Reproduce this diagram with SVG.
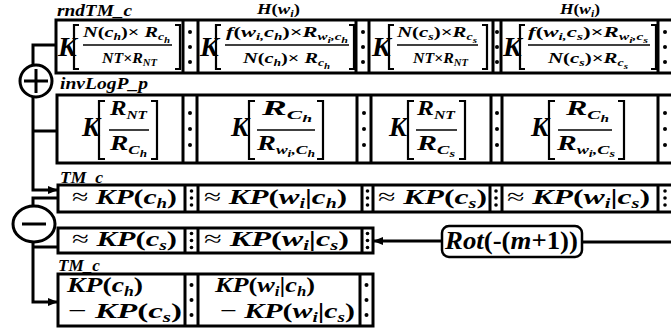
<svg xmlns="http://www.w3.org/2000/svg" width="671" height="334" viewBox="0 0 671 334">
  <defs>
    <style>
      .m { font-family: "Liberation Serif", "DejaVu Serif", serif; font-weight: bold; font-style: italic; fill: #000; }
      .u { font-style: normal; }
      .ap { font-style: normal; font-weight: normal; }
      .box { fill: #fff; stroke: #000; stroke-width: 3; }
      .sep { stroke: #000; stroke-width: 3; }
      .br { fill: none; stroke: #000; stroke-width: 2.2; }
      .fl { stroke: #000; stroke-width: 1.5; }
      .wire { fill: none; stroke: #000; stroke-width: 3; }
      .dot { fill: #000; }
    </style>
    <marker id="arr" markerWidth="10" markerHeight="8" refX="9" refY="4" orient="auto" markerUnits="userSpaceOnUse">
      <path d="M0,0 L10,4 L0,8 Z" fill="#000"/>
    </marker>
  </defs>

  <rect width="671" height="334" fill="#fff"/>

  <!-- connectors -->
  <g id="connectors">
    <!-- into the adder -->
    <path class="wire" d="M56,45 H33 V66"/>
    <path class="wire" d="M33,97 V190 H57" marker-end="url(#arr)"/>
    <path class="wire" d="M33,131 H57"/>
    <!-- into the subtractor -->
    <path class="wire" d="M58,198 H33 V207"/>
    <path class="wire" d="M33,241 V302 H57" marker-end="url(#arr)"/>
    <path class="wire" d="M33,247 H58"/>
    <!-- rotation feed -->
    <path class="wire" d="M671,242 H582"/>
    <path class="wire" d="M442,241 H374" marker-end="url(#arr)"/>
  </g>

  <!-- adder -->
  <g id="adder">
    <circle cx="36" cy="81" r="16" fill="#fff" stroke="#000" stroke-width="3"/>
    <path class="wire" d="M24,81 H48 M36,69 V93"/>
  </g>

  <!-- subtractor -->
  <g id="subtractor">
    <ellipse cx="34" cy="224" rx="21" ry="18" fill="#fff" stroke="#000" stroke-width="3"/>
    <path class="wire" d="M22,224 H46"/>
  </g>

  <!-- rotation box -->
  <g id="rot">
    <rect x="442" y="226" width="140" height="31" rx="7" fill="#fff" stroke="#000" stroke-width="2.5"/>
    <text class="m" x="445" y="249" font-size="26" textLength="133" lengthAdjust="spacingAndGlyphs">Rot<tspan class="u">(-(</tspan>m<tspan class="u">+1))</tspan></text>
  </g>

  <!-- row 1: rndTM_c -->
  <g id="rndTM_c">
    <text class="m" x="57" y="16" font-size="16" textLength="75" lengthAdjust="spacingAndGlyphs">rndTM_c</text>
    <text class="m" x="257" y="14" font-size="15" textLength="43" lengthAdjust="spacingAndGlyphs">H<tspan class="u">(</tspan>w<tspan font-size="10" dy="3">i</tspan><tspan class="u" dy="-3">)</tspan></text>
    <text class="m" x="560" y="14" font-size="15" textLength="40" lengthAdjust="spacingAndGlyphs">H<tspan class="u">(</tspan>w<tspan font-size="10" dy="3">i</tspan><tspan class="u" dy="-3">)</tspan></text>
    <rect class="box" x="56" y="20" width="630" height="53"/>
    <path class="sep" d="M183,20 V73 M198,20 V73 M356,20 V73 M369,20 V73 M493,20 V73 M501,20 V73 M658,20 V73"/>
    <g class="dot">
      <circle cx="190" cy="32" r="2"/><circle cx="190" cy="47" r="2"/><circle cx="190" cy="62" r="2"/>
      <circle cx="363" cy="32" r="2"/><circle cx="363" cy="47" r="2"/><circle cx="363" cy="62" r="2"/>
      <circle cx="497" cy="32" r="2"/><circle cx="497" cy="47" r="2"/><circle cx="497" cy="62" r="2"/>
      <circle cx="665" cy="32" r="2"/><circle cx="665" cy="47" r="2"/><circle cx="665" cy="62" r="2"/>
    </g>
    <!-- cell 1 -->
    <text class="m" x="58" y="56" font-size="28">K</text>
    <path class="br" d="M79,25 H74 V69 H79"/>
    <text class="m" x="83" y="37" font-size="15" textLength="87" lengthAdjust="spacingAndGlyphs">N<tspan class="u">(</tspan>c<tspan font-size="10" dy="3">h</tspan><tspan class="u" dy="-3">)×</tspan> R<tspan font-size="10" dy="3">c</tspan><tspan font-size="8" dy="3">h</tspan></text>
    <line class="fl" x1="83" y1="45" x2="172" y2="45"/>
    <text class="m" x="102" y="63" font-size="15" textLength="55" lengthAdjust="spacingAndGlyphs">NT<tspan class="u">×</tspan>R<tspan font-size="10" dy="3">NT</tspan></text>
    <path class="br" d="M175,25 H180 V69 H175"/>
    <!-- cell 2 -->
    <text class="m" x="200" y="56" font-size="28">K</text>
    <path class="br" d="M221,25 H216 V69 H221"/>
    <text class="m" x="226" y="37" font-size="15" textLength="122" lengthAdjust="spacingAndGlyphs">f<tspan class="u">(</tspan>w<tspan font-size="10" dy="3">i,</tspan><tspan dy="-3">c</tspan><tspan font-size="10" dy="3">h</tspan><tspan class="u" dy="-3">)×</tspan>R<tspan font-size="10" dy="3">w</tspan><tspan font-size="8" dy="3">i</tspan><tspan font-size="10" dy="-3">,c</tspan><tspan font-size="8" dy="3">h</tspan></text>
    <line class="fl" x1="225" y1="45" x2="349" y2="45"/>
    <text class="m" x="243" y="63" font-size="15" textLength="87" lengthAdjust="spacingAndGlyphs">N<tspan class="u">(</tspan>c<tspan font-size="10" dy="3">h</tspan><tspan class="u" dy="-3">)×</tspan> R<tspan font-size="10" dy="3">c</tspan><tspan font-size="8" dy="3">h</tspan></text>
    <path class="br" d="M349,25 H354 V69 H349"/>
    <!-- cell 3 -->
    <text class="m" x="372" y="56" font-size="28">K</text>
    <path class="br" d="M394,25 H389 V69 H394"/>
    <text class="m" x="397" y="37" font-size="15" textLength="80" lengthAdjust="spacingAndGlyphs">N<tspan class="u">(</tspan>c<tspan font-size="10" dy="3">s</tspan><tspan class="u" dy="-3">)×</tspan>R<tspan font-size="10" dy="3">c</tspan><tspan font-size="8" dy="3">s</tspan></text>
    <line class="fl" x1="397" y1="45" x2="478" y2="45"/>
    <text class="m" x="413" y="63" font-size="15" textLength="55" lengthAdjust="spacingAndGlyphs">NT<tspan class="u">×</tspan>R<tspan font-size="10" dy="3">NT</tspan></text>
    <path class="br" d="M482,25 H487 V69 H482"/>
    <!-- cell 4 -->
    <text class="m" x="503" y="56" font-size="28">K</text>
    <path class="br" d="M525,25 H520 V69 H525"/>
    <text class="m" x="528" y="37" font-size="15" textLength="120" lengthAdjust="spacingAndGlyphs">f<tspan class="u">(</tspan>w<tspan font-size="10" dy="3">i,</tspan><tspan dy="-3">c</tspan><tspan font-size="10" dy="3">s</tspan><tspan class="u" dy="-3">)×</tspan>R<tspan font-size="10" dy="3">w</tspan><tspan font-size="8" dy="3">i</tspan><tspan font-size="10" dy="-3">,c</tspan><tspan font-size="8" dy="3">s</tspan></text>
    <line class="fl" x1="528" y1="45" x2="650" y2="45"/>
    <text class="m" x="548" y="63" font-size="15" textLength="80" lengthAdjust="spacingAndGlyphs">N<tspan class="u">(</tspan>c<tspan font-size="10" dy="3">s</tspan><tspan class="u" dy="-3">)×</tspan>R<tspan font-size="10" dy="3">c</tspan><tspan font-size="8" dy="3">s</tspan></text>
    <path class="br" d="M651,25 H656 V69 H651"/>
  </g>

  <!-- row 2: invLogP_p -->
  <g id="invLogP_p">
    <text class="m" x="60" y="89" font-size="16" textLength="88" lengthAdjust="spacingAndGlyphs">invLogP_p</text>
    <rect class="box" x="57" y="95" width="630" height="68"/>
    <path class="sep" d="M183,95 V163 M197,95 V163 M357,95 V163 M371,95 V163 M491,95 V163 M502,95 V163 M658,95 V163"/>
    <g class="dot">
      <circle cx="190" cy="113" r="2"/><circle cx="190" cy="129" r="2"/><circle cx="190" cy="145" r="2"/>
      <circle cx="364" cy="113" r="2"/><circle cx="364" cy="129" r="2"/><circle cx="364" cy="145" r="2"/>
      <circle cx="497" cy="113" r="2"/><circle cx="497" cy="129" r="2"/><circle cx="497" cy="145" r="2"/>
      <circle cx="665" cy="113" r="2"/><circle cx="665" cy="129" r="2"/><circle cx="665" cy="145" r="2"/>
    </g>
    <!-- cell 1 -->
    <text class="m" x="82" y="136" font-size="27">K</text>
    <path class="br" d="M105,101 H99 V159 H105"/>
    <text class="m" x="110" y="115" font-size="21" textLength="37" lengthAdjust="spacingAndGlyphs">R<tspan font-size="13" dy="4">NT</tspan></text>
    <line class="fl" x1="109" y1="130" x2="149" y2="130"/>
    <text class="m" x="110" y="150" font-size="21" textLength="37" lengthAdjust="spacingAndGlyphs">R<tspan font-size="13" dy="4">C</tspan><tspan font-size="10" dy="3">h</tspan></text>
    <path class="br" d="M151,101 H157 V159 H151"/>
    <!-- cell 2 -->
    <text class="m" x="231" y="136" font-size="27">K</text>
    <path class="br" d="M255,101 H249 V159 H255"/>
    <text class="m" x="262" y="115" font-size="21" textLength="50" lengthAdjust="spacingAndGlyphs">R<tspan font-size="13" dy="4">C</tspan><tspan font-size="10" dy="3">h</tspan></text>
    <line class="fl" x1="257" y1="130" x2="315" y2="130"/>
    <text class="m" x="257" y="150" font-size="21" textLength="58" lengthAdjust="spacingAndGlyphs">R<tspan font-size="13" dy="4">w</tspan><tspan font-size="10" dy="3">i</tspan><tspan font-size="13" dy="-3">,C</tspan><tspan font-size="10" dy="3">h</tspan></text>
    <path class="br" d="M317,101 H323 V159 H317"/>
    <!-- cell 3 -->
    <text class="m" x="389" y="136" font-size="27">K</text>
    <path class="br" d="M414,101 H408 V159 H414"/>
    <text class="m" x="417" y="115" font-size="21" textLength="38" lengthAdjust="spacingAndGlyphs">R<tspan font-size="13" dy="4">NT</tspan></text>
    <line class="fl" x1="416" y1="130" x2="457" y2="130"/>
    <text class="m" x="417" y="150" font-size="21" textLength="38" lengthAdjust="spacingAndGlyphs">R<tspan font-size="13" dy="4">C</tspan><tspan font-size="10" dy="3">s</tspan></text>
    <path class="br" d="M459,101 H465 V159 H459"/>
    <!-- cell 4 -->
    <text class="m" x="531" y="136" font-size="27">K</text>
    <path class="br" d="M555,101 H549 V159 H555"/>
    <text class="m" x="566" y="115" font-size="21" textLength="43" lengthAdjust="spacingAndGlyphs">R<tspan font-size="13" dy="4">C</tspan><tspan font-size="10" dy="3">h</tspan></text>
    <line class="fl" x1="558" y1="130" x2="612" y2="130"/>
    <text class="m" x="557" y="150" font-size="21" textLength="58" lengthAdjust="spacingAndGlyphs">R<tspan font-size="13" dy="4">w</tspan><tspan font-size="10" dy="3">i</tspan><tspan font-size="13" dy="-3">,C</tspan><tspan font-size="10" dy="3">s</tspan></text>
    <path class="br" d="M618,101 H624 V159 H618"/>
  </g>

  <!-- row 3: TM_c -->
  <g id="TM_c_sum">
    <text class="m" x="60" y="183" font-size="16" textLength="43" lengthAdjust="spacingAndGlyphs">TM_c</text>
    <rect class="box" x="58" y="185" width="630" height="27"/>
    <path class="sep" d="M185,185 V212 M198,185 V212 M362,185 V212 M373,185 V212 M490,185 V212 M502,185 V212 M658,185 V212"/>
    <g class="dot">
      <circle cx="191.5" cy="191" r="1.8"/><circle cx="191.5" cy="198" r="1.8"/><circle cx="191.5" cy="205" r="1.8"/>
      <circle cx="367.5" cy="191" r="1.8"/><circle cx="367.5" cy="198" r="1.8"/><circle cx="367.5" cy="205" r="1.8"/>
      <circle cx="496" cy="191" r="1.8"/><circle cx="496" cy="198" r="1.8"/><circle cx="496" cy="205" r="1.8"/>
      <circle cx="665" cy="191" r="1.8"/><circle cx="665" cy="198" r="1.8"/><circle cx="665" cy="205" r="1.8"/>
    </g>
    <text class="m" x="72" y="204" font-size="22" textLength="105" lengthAdjust="spacingAndGlyphs"><tspan class="ap">≈ </tspan>KP<tspan class="u">(</tspan>c<tspan font-size="14" dy="4">h</tspan><tspan class="u" dy="-4">)</tspan></text>
    <text class="m" x="204" y="204" font-size="22" textLength="143" lengthAdjust="spacingAndGlyphs"><tspan class="ap">≈ </tspan>KP<tspan class="u">(</tspan>w<tspan font-size="14" dy="4">i</tspan><tspan class="u" dy="-4">|</tspan>c<tspan font-size="14" dy="4">h</tspan><tspan class="u" dy="-4">)</tspan></text>
    <text class="m" x="378" y="204" font-size="22" textLength="109" lengthAdjust="spacingAndGlyphs"><tspan class="ap">≈ </tspan>KP<tspan class="u">(</tspan>c<tspan font-size="14" dy="4">s</tspan><tspan class="u" dy="-4">)</tspan></text>
    <text class="m" x="507" y="204" font-size="22" textLength="143" lengthAdjust="spacingAndGlyphs"><tspan class="ap">≈ </tspan>KP<tspan class="u">(</tspan>w<tspan font-size="14" dy="4">i</tspan><tspan class="u" dy="-4">|</tspan>c<tspan font-size="14" dy="4">s</tspan><tspan class="u" dy="-4">)</tspan></text>
  </g>

  <!-- row 4: rotated TM_c -->
  <g id="TM_c_rot">
    <rect class="box" x="58" y="228" width="315" height="25"/>
    <path class="sep" d="M185,228 V253 M198,228 V253 M362,228 V253"/>
    <g class="dot">
      <circle cx="191.5" cy="233.5" r="1.8"/><circle cx="191.5" cy="240.5" r="1.8"/><circle cx="191.5" cy="247.5" r="1.8"/>
      <circle cx="367.5" cy="233.5" r="1.8"/><circle cx="367.5" cy="240.5" r="1.8"/><circle cx="367.5" cy="247.5" r="1.8"/>
    </g>
    <text class="m" x="72" y="246" font-size="22" textLength="105" lengthAdjust="spacingAndGlyphs"><tspan class="ap">≈ </tspan>KP<tspan class="u">(</tspan>c<tspan font-size="14" dy="4">s</tspan><tspan class="u" dy="-4">)</tspan></text>
    <text class="m" x="204" y="246" font-size="22" textLength="145" lengthAdjust="spacingAndGlyphs"><tspan class="ap">≈ </tspan>KP<tspan class="u">(</tspan>w<tspan font-size="14" dy="4">i</tspan><tspan class="u" dy="-4">|</tspan>c<tspan font-size="14" dy="4">s</tspan><tspan class="u" dy="-4">)</tspan></text>
  </g>

  <!-- row 5: TM_c difference -->
  <g id="TM_c_diff">
    <text class="m" x="58" y="271" font-size="16" textLength="42" lengthAdjust="spacingAndGlyphs">TM_c</text>
    <rect class="box" x="58" y="274" width="315" height="52"/>
    <path class="sep" d="M185,274 V326 M198,274 V326 M360,274 V326"/>
    <g class="dot">
      <circle cx="191.5" cy="285" r="2"/><circle cx="191.5" cy="300" r="2"/><circle cx="191.5" cy="315" r="2"/>
      <circle cx="366.5" cy="285" r="2"/><circle cx="366.5" cy="300" r="2"/><circle cx="366.5" cy="315" r="2"/>
    </g>
    <text class="m" x="67" y="292" font-size="22" textLength="76" lengthAdjust="spacingAndGlyphs">KP<tspan class="u">(</tspan>c<tspan font-size="14" dy="4">h</tspan><tspan class="u" dy="-4">)</tspan></text>
    <text class="m" x="68" y="318" font-size="22" textLength="114" lengthAdjust="spacingAndGlyphs"><tspan class="ap">−  </tspan>KP<tspan class="u">(</tspan>c<tspan font-size="14" dy="4">s</tspan><tspan class="u" dy="-4">)</tspan></text>
    <text class="m" x="215" y="292" font-size="22" textLength="100" lengthAdjust="spacingAndGlyphs">KP<tspan class="u">(</tspan>w<tspan font-size="14" dy="4">i</tspan><tspan class="u" dy="-4">|</tspan>c<tspan font-size="14" dy="4">h</tspan><tspan class="u" dy="-4">)</tspan></text>
    <text class="m" x="220" y="318" font-size="22" textLength="135" lengthAdjust="spacingAndGlyphs"><tspan class="ap">−  </tspan>KP<tspan class="u">(</tspan>w<tspan font-size="14" dy="4">i</tspan><tspan class="u" dy="-4">|</tspan>c<tspan font-size="14" dy="4">s</tspan><tspan class="u" dy="-4">)</tspan></text>
  </g>
</svg>
